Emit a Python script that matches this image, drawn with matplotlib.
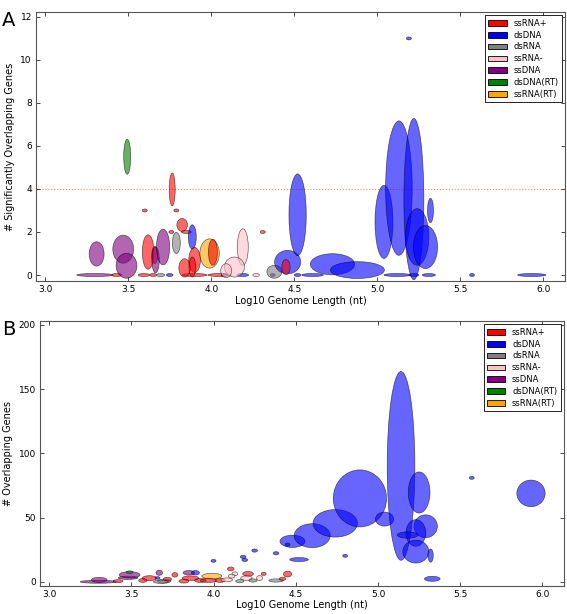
import matplotlib
matplotlib.use("Agg")
import matplotlib.pyplot as plt
from matplotlib.patches import Ellipse, Patch

CATS = ["ssRNA+", "dsDNA", "dsRNA", "ssRNA-", "ssDNA", "dsDNA(RT)", "ssRNA(RT)"]
COLORS = {"ssRNA+": "red", "dsDNA": "blue", "dsRNA": "grey", "ssRNA-": "pink",
          "ssDNA": "purple", "dsDNA(RT)": "green", "ssRNA(RT)": "orange"}

# panel A: significant overlaps (centre = mean, size = spread)
A_cat = ["ssDNA", "ssRNA+", "ssRNA+", "ssRNA+", "dsRNA", "dsDNA", "ssRNA+", "ssRNA+", "ssDNA",
         "dsDNA", "ssRNA-", "dsDNA", "dsDNA", "dsDNA", "dsDNA", "dsDNA", "dsDNA", "dsDNA", "dsDNA",
         "dsDNA(RT)", "ssRNA+", "ssRNA+", "ssRNA+", "ssRNA+", "ssRNA+", "ssRNA+", "ssRNA+",
         "ssDNA", "ssDNA", "ssDNA", "ssRNA+", "ssRNA+", "ssDNA", "ssDNA", "dsRNA", "dsDNA",
         "ssRNA+", "ssRNA+", "ssRNA+", "ssRNA(RT)", "ssRNA+", "ssRNA-", "ssRNA-", "ssRNA-",
         "dsRNA", "dsDNA", "ssRNA+", "dsDNA", "dsDNA", "dsDNA", "dsDNA", "dsDNA", "dsDNA",
         "dsDNA", "dsDNA", "dsDNA", "dsDNA"]
A_x = [3.30, 3.43, 3.595, 3.65, 3.695, 3.75, 3.90, 4.05, 4.08,
       4.19, 4.27, 4.37, 4.52, 4.61, 5.12, 5.22, 5.31, 5.57, 5.93,
       3.494, 3.765, 3.60, 3.79, 3.825, 3.76, 3.85, 4.31,
       3.31, 3.47, 3.49, 3.62, 3.66, 3.665, 3.71, 3.79, 3.886,
       3.84, 3.90, 3.886, 3.99, 4.01, 4.19, 4.14, 4.09,
       4.38, 4.46, 4.45, 4.52, 4.73, 4.88, 5.04, 5.13, 5.22,
       5.24, 5.29, 5.32, 5.19]
A_y = [0, 0, 0, 0, 0, 0, 0, 0, 0,
       0, 0, 0, 0, 0, 0, 0, 0, 0, 0,
       5.5, 3.98, 3.0, 3.0, 2.33, 2.0, 2.0, 2.0,
       0.98, 1.2, 0.43, 1.07, 0.93, 0.7, 1.3, 1.49, 1.77,
       0.33, 0.7, 0.37, 1.0, 1.06, 1.3, 0.37, 0.2,
       0.15, 0.6, 0.37, 2.8, 0.5, 0.23, 2.47, 4.04, 3.53,
       1.77, 1.3, 3.0, 11.0]
A_w = [0.22, 0.06, 0.07, 0.04, 0.05, 0.04, 0.15, 0.14, 0.04,
       0.07, 0.04, 0.03, 0.04, 0.13, 0.16, 0.06, 0.08, 0.03, 0.17,
       0.042, 0.036, 0.03, 0.03, 0.064, 0.03, 0.06, 0.03,
       0.09, 0.125, 0.125, 0.07, 0.036, 0.045, 0.08, 0.048, 0.048,
       0.07, 0.07, 0.04, 0.117, 0.054, 0.066, 0.12, 0.066,
       0.09, 0.157, 0.05, 0.104, 0.267, 0.325, 0.108, 0.16, 0.12,
       0.14, 0.145, 0.036, 0.03]
A_h = [0.14, 0.14, 0.14, 0.14, 0.14, 0.14, 0.14, 0.14, 0.14,
       0.14, 0.14, 0.14, 0.14, 0.14, 0.14, 0.14, 0.14, 0.14, 0.14,
       1.63, 1.53, 0.14, 0.14, 0.6, 0.14, 0.14, 0.14,
       1.13, 1.3, 1.16, 1.6, 0.8, 1.2, 1.66, 0.98, 1.13,
       0.85, 1.16, 0.93, 1.36, 1.2, 1.7, 0.93, 0.65,
       0.6, 1.09, 0.7, 3.8, 0.98, 0.78, 3.4, 6.25, 7.5,
       2.63, 2.0, 1.13, 0.14]

# panel B: all overlaps
B_cat = ["ssDNA", "ssRNA+", "ssDNA", "ssDNA", "ssDNA", "dsDNA(RT)", "ssDNA", "ssRNA+",
         "ssRNA+", "dsRNA", "ssRNA+", "ssRNA+", "ssDNA", "dsDNA", "dsDNA", "ssRNA+", "ssRNA+",
         "ssRNA+", "ssRNA(RT)", "ssRNA+", "ssRNA+", "ssRNA+", "ssRNA-", "ssRNA-", "ssRNA-",
         "ssRNA+", "ssRNA-", "dsRNA", "dsRNA", "ssRNA-", "ssRNA+", "dsRNA", "ssRNA+", "ssRNA+",
         "dsDNA", "dsDNA", "dsDNA", "dsDNA", "dsDNA", "dsDNA", "dsDNA", "dsDNA", "dsDNA",
         "dsDNA", "dsDNA", "dsDNA", "dsDNA", "dsDNA", "dsDNA", "dsDNA", "dsDNA", "dsDNA",
         "dsDNA", "dsDNA", "dsDNA", "dsDNA", "dsDNA", "dsRNA"]
B_x = [3.30, 3.42, 3.305, 3.48, 3.49, 3.49, 3.67, 3.61,
       3.57, 3.70, 3.765, 3.72, 3.85, 3.89, 3.66, 3.86, 3.82,
       3.92, 3.99, 3.97, 4.04, 4.105, 4.13, 4.11, 4.08,
       4.21, 4.20, 4.16, 4.24, 4.28, 4.305, 4.38, 4.42, 4.45,
       4.00, 4.18, 4.19, 4.25, 4.38, 4.48, 4.45, 4.52, 4.60,
       4.74, 4.80, 4.89, 5.04, 5.14, 5.25, 5.29, 5.23, 5.23,
       5.18, 5.32, 5.33, 5.57, 5.93, 3.68]
B_y = [0, 0.5, 1.5, 3.1, 5.4, 7.5, 7, 2.8,
       1, 0.5, 5.4, 2, 7, 7, 3, 2.8, 0.5,
       1, 4.4, 1, 1, 10, 6.2, 4.4, 1.5,
       6.2, 2.8, 0.5, 1, 2.9, 6.2, 1, 2.3, 6,
       16.3, 19.4, 17, 24.3, 22.2, 31.5, 28.9, 17.3, 35.9,
       45.5, 20.2, 64.9, 48.8, 90.2, 69.5, 43.2, 38, 23.5,
       36.4, 20.4, 2.3, 80.9, 68.8, 0]
B_w = [0.22, 0.06, 0.095, 0.12, 0.126, 0.042, 0.04, 0.087,
       0.05, 0.08, 0.036, 0.05, 0.07, 0.049, 0.03, 0.1, 0.06,
       0.07, 0.121, 0.1, 0.06, 0.04, 0.035, 0.04, 0.07,
       0.065, 0.07, 0.05, 0.05, 0.036, 0.03, 0.087, 0.04, 0.05,
       0.03, 0.035, 0.035, 0.035, 0.035, 0.152, 0.03, 0.113, 0.219,
       0.27, 0.03, 0.324, 0.111, 0.168, 0.132, 0.142, 0.12, 0.158,
       0.126, 0.032, 0.095, 0.03, 0.172, 0.09]
B_h = [2.3, 2.3, 3.9, 2.5, 4.9, 2.0, 4, 3.9,
       3, 3, 3.5, 3, 3.5, 3.5, 2, 3.5, 3,
       3, 4.4, 3, 3, 3, 3, 3, 3,
       3.6, 3.5, 2.5, 2.5, 3.9, 2.5, 2.5, 2.5, 4.6,
       2.3, 2.5, 2.5, 2.5, 2.5, 9.6, 2.5, 3.1, 18.6,
       21.4, 2.3, 44.4, 10.9, 147, 32, 17.8, 20.7, 17.8,
       4.9, 10.3, 3.9, 2.3, 20.7, 2.5]

X_TICKS = [3.0, 3.5, 4.0, 4.5, 5.0, 5.5, 6.0]


def panel(ax, cat, xs, ys, ws, hs, ylim, yticks, ylabel, letter):
    for c, x, y, w, h in zip(cat, xs, ys, ws, hs):
        ax.add_patch(Ellipse((x, y), w, h, facecolor=COLORS[c], edgecolor="black",
                             lw=0.5, alpha=0.6))
    ax.set_xlim(2.945, 6.13); ax.set_ylim(*ylim)
    ax.set_xticks(X_TICKS); ax.set_xticklabels([f"{t:.1f}" for t in X_TICKS])
    ax.set_yticks(yticks)
    ax.tick_params(direction="in", top=True, right=True, labelsize=6.5, length=3,
                   width=0.5, pad=3)
    for s in ax.spines.values():
        s.set_color("#555555")
    ax.set_xlabel("Log10 Genome Length (nt)", fontsize=7, labelpad=1)
    ax.set_ylabel(ylabel, fontsize=7, labelpad=4)
    hnd = [Patch(facecolor=COLORS[c], edgecolor="black", lw=0.6, label=c) for c in CATS]
    leg = ax.legend(handles=hnd, loc="upper right", fontsize=6, fancybox=False,
                    framealpha=1, edgecolor="black", labelspacing=0.35,
                    borderaxespad=0.4, handlelength=2.2)
    leg.get_frame().set_linewidth(0.6)
    ax.figure.text(0.003, ax.get_position().y1 + 0.002, letter, fontsize=14, va="top")


fig = plt.figure(figsize=(5.67, 6.14), dpi=100)
axA = fig.add_axes([0.0635, 0.5423, 0.933, 0.4382])
axB = fig.add_axes([0.0705, 0.046, 0.924, 0.4312])

axA.axhline(4, color="#ff9060", lw=0.8, ls=":", zorder=0)
panel(axA, A_cat, A_x, A_y, A_w, A_h, (-0.28, 12.23), range(0, 13, 2),
      "# Significantly Overlapping Genes", "A")
panel(axB, B_cat, B_x, B_y, B_w, B_h, (-3.1, 203), range(0, 201, 50),
      "# Overlapping Genes", "B")

fig.savefig("out.png", dpi=100)
